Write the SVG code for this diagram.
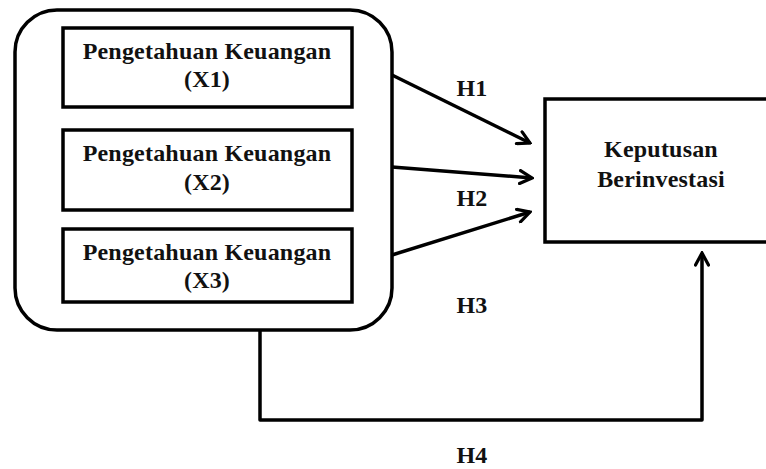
<svg xmlns="http://www.w3.org/2000/svg" width="766" height="469" viewBox="0 0 766 469">
<defs>
<style>
.box{fill:#fff;stroke:#000;stroke-width:3.5}
.t{font-family:"Liberation Serif","Times New Roman",serif;font-weight:bold;font-size:24px;fill:#111;text-anchor:middle;letter-spacing:0.2px}
.c{fill:none;stroke:#000;stroke-width:3.5;stroke-linejoin:round}
</style>
<marker id="ah" viewBox="0 0 16 16" refX="14" refY="8" markerWidth="16" markerHeight="16" markerUnits="userSpaceOnUse" orient="auto">
<path d="M2,1.5 L14,8 L2,14.5" fill="none" stroke="#000" stroke-width="3.2" stroke-linecap="round" stroke-linejoin="miter"/>
</marker>
</defs>
<rect width="766" height="469" fill="#fff"/>
<g id="group">
<rect class="box" x="15" y="10" width="377" height="320" rx="42" ry="42"/>
</g>
<g id="x1">
<rect class="box" x="63" y="28" width="289" height="79"/>
<text class="t" x="207" y="59">Pengetahuan Keuangan</text>
<text class="t" x="207" y="87">(X1)</text>
</g>
<g id="x2">
<rect class="box" x="63" y="130" width="289" height="80"/>
<text class="t" x="207" y="161">Pengetahuan Keuangan</text>
<text class="t" x="207" y="190">(X2)</text>
</g>
<g id="x3">
<rect class="box" x="63" y="229" width="289" height="73"/>
<text class="t" x="207" y="260">Pengetahuan Keuangan</text>
<text class="t" x="207" y="288">(X3)</text>
</g>
<g id="y">
<rect class="box" x="545" y="99" width="240" height="143"/>
<text class="t" x="661" y="157">Keputusan</text>
<text class="t" x="661" y="187">Berinvestasi</text>
</g>
<g id="connectors">
<line class="c" x1="392" y1="75" x2="530" y2="143" marker-end="url(#ah)"/>
<line class="c" x1="392" y1="167" x2="532" y2="178" marker-end="url(#ah)"/>
<line class="c" x1="392" y1="255" x2="530" y2="212" marker-end="url(#ah)"/>
<polyline class="c" points="260,330 260,420 702,420 702,253" marker-end="url(#ah)"/>
</g>
<g id="labels">
<text class="t" x="472" y="96">H1</text>
<text class="t" x="472" y="206">H2</text>
<text class="t" x="472" y="313">H3</text>
<text class="t" x="472" y="463">H4</text>
</g>
</svg>
